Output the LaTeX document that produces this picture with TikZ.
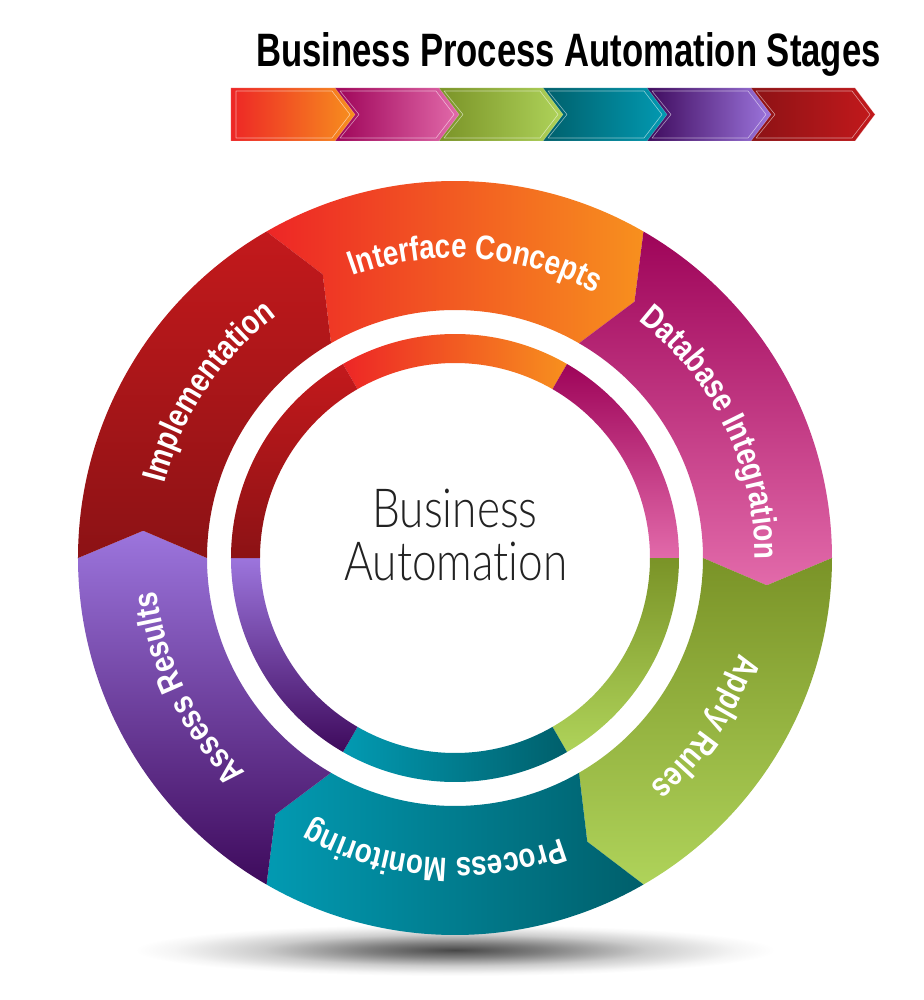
\documentclass[tikz,border=0pt]{standalone}
\usepackage{fontspec}
\usetikzlibrary{decorations.text}

\newfontfamily\titlefont[FakeStretch=0.74]{Liberation Sans}
\newfontfamily\labelfont[FakeStretch=0.82]{Liberation Sans}
\newfontfamily\thinfont[FakeStretch=0.82,Ligatures=NoCommon]{Lato Light}
\newcommand\stagefont{\labelfont\bfseries\fontsize{29}{29}\selectfont\color{white}}

%Colors
\definecolor{intA}{HTML}{ED2626}
\definecolor{intB}{HTML}{F7901E}
\definecolor{dbA}{HTML}{9E0459}
\definecolor{dbB}{HTML}{E26AAA}
\definecolor{arA}{HTML}{7A9327}
\definecolor{arB}{HTML}{AFD35A}
\definecolor{pmA}{HTML}{005F6B}
\definecolor{pmB}{HTML}{029AB2}
\definecolor{asA}{HTML}{3E0A5C}
\definecolor{asB}{HTML}{9C75DD}
\definecolor{imA}{HTML}{8C1215}
\definecolor{imB}{HTML}{C3191C}
\definecolor{centergray}{HTML}{222222}

\pgfdeclareradialshading{groundshadow}{\pgfpointorigin}{color(0bp)=(black!72); color(7bp)=(black!50); color(15bp)=(black!20); color(22bp)=(black!4); color(25bp)=(white); color(50bp)=(white)}

\begin{document}
\begin{tikzpicture}
	[x=0.03cm,y=0.03cm,line join=round,
	%Styles
	intshade/.style={left color=intA,right color=intB},
	dbshade/.style={top color=dbA,bottom color=dbB},
	arshade/.style={top color=arA,bottom color=arB},
	pmshade/.style={left color=pmB,right color=pmA},
	asshade/.style={top color=asB,bottom color=asA},
	imshade/.style={top color=imB,bottom color=imA},
	stage label/.style={decorate,decoration={text along path,text align=center}},
	title text/.style={font=\titlefont\bfseries\fontsize{40}{40}\selectfont,anchor=base},
	center text/.style={font=\thinfont\fontsize{46}{46}\selectfont,text=centergray,anchor=base}
	]
	
	\useasboundingbox (-455,-442) rectangle (469,558);
	\fill[white] (-455,-442) rectangle (469,558);
	
	%Title and stage bar
	\node[title text] (title) at (113.5,491) {Business Process Automation Stages};
	
	\foreach \i/\ca/\cb in {5/imA/imB,4/asA/asB,3/pmA/pmB,2/arA/arB,1/dbA/dbB,0/intA/intB}{
		\pgfmathsetmacro\x{-224+104*\i}
		\pgfmathsetmacro\n{\i>0 ? 19 : 0}
		\path[left color=\ca,right color=\cb,draw=white,draw opacity=.3]
			(\x,470) -- ++(104,0) -- ++(20,-26.5) -- ++(-20,-26.5) -- ++(-104,0) -- cycle;
		\draw[white,opacity=.55,line width=.5pt]
			(\x+5,467) -- (\x+101,467) -- (\x+119,443.5) -- (\x+101,420) -- (\x+5,420) -- (\x+5+\n,443.5) -- cycle;
	}
	
	%Shadow
	\path[shading=groundshadow] (0,-392) ellipse[x radius=320,y radius=26];
	
	%The wheel
	\foreach \a/\s in {60/intshade,0/dbshade,-60/arshade,-120/pmshade,180/asshade,120/imshade}{
		\path[\s] ({\a+60}:377) arc[start angle=\a+60,end angle=\a,radius=377] -- ({\a-5}:313)
			-- (\a:248) arc[start angle=\a,end angle=\a+60,radius=248] -- ({\a+55}:313) -- cycle;
		\path[\s] (\a:195) -- (\a:224) arc[start angle=\a,end angle=\a+60,radius=224]
			-- ({\a+60}:195) arc[start angle=\a+60,end angle=\a,radius=195] -- cycle;
	}
	
	%Stage labels
	\path[stage label,decoration={text={|\stagefont|Interface Concepts}}] (136:300) arc[start angle=136,end angle=36,radius=300];
	\path[stage label,decoration={text={|\stagefont|Database Integration}}] (76:300) arc[start angle=76,end angle=-24,radius=300];
	\path[stage label,decoration={text={|\stagefont|Apply Rules}}] (16:300) arc[start angle=16,end angle=-84,radius=300];
	\path[stage label,decoration={text={|\stagefont|Process Monitoring}}] (-44:300) arc[start angle=-44,end angle=-144,radius=300];
	\path[stage label,decoration={text={|\stagefont|Assess Results}}] (256:300) arc[start angle=256,end angle=156,radius=300];
	\path[stage label,decoration={text={|\stagefont|Implementation}}] (196:300) arc[start angle=196,end angle=96,radius=300];
	
	%Center
	\node[center text] (business) at (0,31) {Business};
	\node[center text] (automation) at (1,-22) {Automation};
\end{tikzpicture}
\end{document}
